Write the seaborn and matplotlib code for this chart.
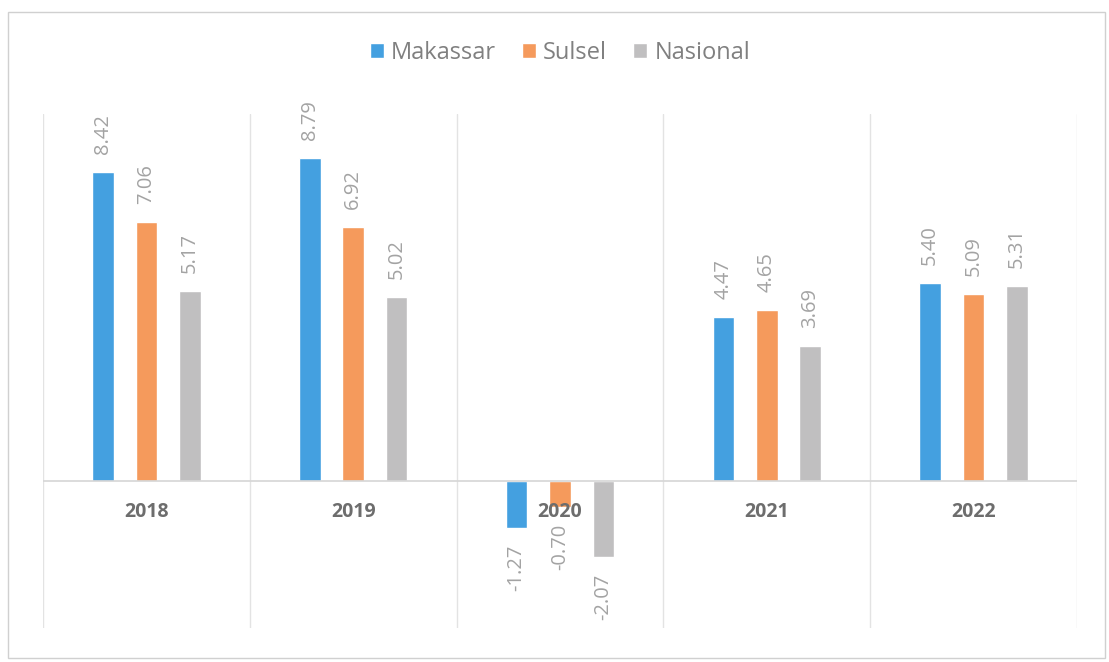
import matplotlib
matplotlib.use("Agg")
import matplotlib.pyplot as plt
import seaborn as sns
import pandas as pd
from matplotlib.patches import Rectangle

years = ["2018", "2019", "2020", "2021", "2022"]
series = ["Makassar", "Sulsel", "Nasional"]
makassar = [8.42, 8.79, -1.27, 4.47, 5.40]
sulsel = [7.06, 6.92, -0.70, 4.65, 5.09]
nasional = [5.17, 5.02, -2.07, 3.69, 5.31]
colors = ["#44A0E0", "#F59A5C", "#C0BFC0"]

rows = []
for name, vals in zip(series, [makassar, sulsel, nasional]):
    for y, v in zip(years, vals):
        rows.append({"Tahun": y, "Wilayah": name, "Nilai": v})
df = pd.DataFrame(rows)

sns.set_theme(style="white")
plt.rcParams["font.family"] = ["Open Sans", "DejaVu Sans"]

fig = plt.figure(figsize=(11.09, 6.62), dpi=100)
ax = fig.add_axes([43 / 1109, 1 - 628 / 662, (1077 - 43) / 1109, (628 - 114) / 662])

sns.barplot(data=df, x="Tahun", y="Nilai", hue="Wilayah", order=years,
            hue_order=series, palette=colors, width=0.63, gap=0.5,
            saturation=1, ax=ax, legend=True)

ax.set_ylim(-4, 10)
ax.set_xlim(-0.5, 4.5)
for s in ax.spines.values():
    s.set_visible(False)
ax.set_xticks([])
ax.set_yticks([])
ax.set_xlabel("")
ax.set_ylabel("")

for b in [-0.5, 0.5, 1.5, 2.5, 3.5, 4.5]:
    ax.axvline(b, color="#e3e3e3", lw=1, zorder=0)
ax.axhline(0, color="#d6d6d6", lw=1.2, zorder=3)

for cont in ax.containers:
    for bar in cont:
        h = bar.get_height()
        x = bar.get_x() + bar.get_width() / 2
        if h >= 0:
            ax.annotate(f"{h:.2f}", (x, h), xytext=(0, 13), textcoords="offset points",
                        rotation=90, ha="center", va="bottom", fontsize=14.5, color="#a3a3a3")
        else:
            ax.annotate(f"{h:.2f}", (x, h), xytext=(0, -12), textcoords="offset points",
                        rotation=90, ha="center", va="top", fontsize=14.5, color="#a3a3a3")

for i, y in enumerate(years):
    ax.annotate(y, (i, 0), xytext=(0, -22), textcoords="offset points",
                ha="center", va="center", fontsize=14, fontweight="bold",
                color="#6d6d6d", zorder=5)

leg = ax.legend(loc="center", bbox_to_anchor=(0.5, (628 - 53) / (628 - 114)), ncol=3,
                frameon=False, fontsize=17, handlelength=0.6, handleheight=0.6,
                handletextpad=0.3, columnspacing=1.1)
for t in leg.get_texts():
    t.set_color("#808080")

fig.patches.append(Rectangle((8 / 1109, 4 / 662), 1097 / 1109, 646 / 662,
                             transform=fig.transFigure, fill=False,
                             edgecolor="#d0d0d0", lw=1))

fig.savefig("out.png", dpi=100)
